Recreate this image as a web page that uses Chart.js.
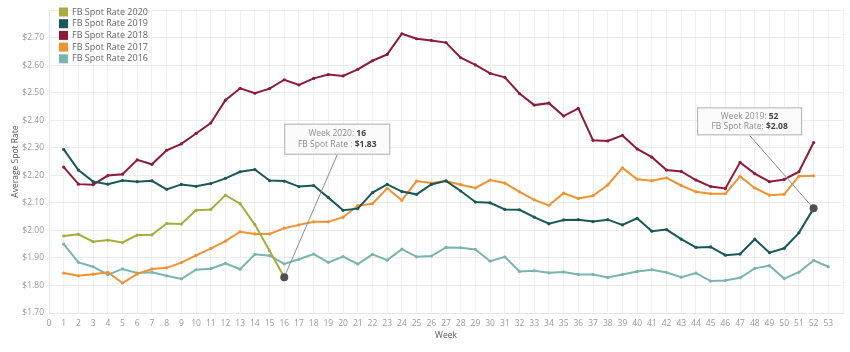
<!DOCTYPE html>
<html>
<head>
<meta charset="utf-8">
<script src="https://cdn.jsdelivr.net/npm/chart.js@4.4.1/dist/chart.umd.min.js"></script>
<style>
  html, body { margin: 0; padding: 0; background: #fff; }
  #wrap { width: 850px; height: 352px; }
</style>
</head>
<body>
<div id="wrap"><canvas id="spot-chart" width="850" height="352"></canvas></div>
<script>
// Semanas e valores por ano
const weeks = Array.from({ length: 53 }, (_, i) => i + 1);
const seriesNames = ['FB Spot Rate 2020', 'FB Spot Rate 2019', 'FB Spot Rate 2018', 'FB Spot Rate 2017', 'FB Spot Rate 2016'];
const rate2020 = [1.980, 1.986, 1.959, 1.965, 1.956, 1.983, 1.984, 2.025, 2.023, 2.073, 2.076, 2.128, 2.097, 2.021, 1.926, 1.83];
const rate2019 = [2.294, 2.219, 2.177, 2.168, 2.181, 2.177, 2.180, 2.149, 2.167, 2.160, 2.170, 2.189, 2.213, 2.221, 2.181, 2.179, 2.159, 2.163, 2.119, 2.073,
  2.079, 2.137, 2.167, 2.141, 2.131, 2.167, 2.180, 2.143, 2.103, 2.100, 2.076, 2.075, 2.048, 2.024, 2.038, 2.039, 2.032, 2.039, 2.020, 2.044,
  1.997, 2.003, 1.968, 1.938, 1.940, 1.910, 1.914, 1.968, 1.919, 1.935, 1.991, 2.08];
const rate2018 = [2.230, 2.168, 2.166, 2.199, 2.204, 2.256, 2.240, 2.291, 2.314, 2.352, 2.390, 2.473, 2.516, 2.498, 2.515, 2.547, 2.528, 2.552, 2.566, 2.561,
  2.585, 2.616, 2.639, 2.714, 2.696, 2.690, 2.682, 2.627, 2.601, 2.570, 2.556, 2.497, 2.455, 2.462, 2.415, 2.443, 2.327, 2.325, 2.345, 2.296,
  2.266, 2.219, 2.214, 2.183, 2.159, 2.152, 2.247, 2.206, 2.177, 2.185, 2.213, 2.319];
const rate2017 = [1.845, 1.835, 1.841, 1.848, 1.809, 1.842, 1.860, 1.864, 1.883, 1.909, 1.934, 1.961, 1.995, 1.987, 1.987, 2.008, 2.020, 2.031, 2.031, 2.048,
  2.090, 2.097, 2.153, 2.109, 2.179, 2.172, 2.179, 2.166, 2.154, 2.183, 2.172, 2.140, 2.111, 2.091, 2.135, 2.116, 2.126, 2.165, 2.227, 2.186,
  2.180, 2.191, 2.163, 2.140, 2.133, 2.133, 2.196, 2.154, 2.128, 2.131, 2.197, 2.198];
const rate2016 = [1.950, 1.884, 1.868, 1.839, 1.860, 1.845, 1.848, 1.835, 1.824, 1.857, 1.861, 1.880, 1.859, 1.913, 1.908, 1.878, 1.895, 1.914, 1.884, 1.905,
  1.878, 1.913, 1.892, 1.932, 1.904, 1.907, 1.938, 1.937, 1.931, 1.888, 1.904, 1.851, 1.853, 1.846, 1.849, 1.840, 1.840, 1.829, 1.840, 1.851,
  1.857, 1.847, 1.830, 1.845, 1.816, 1.818, 1.828, 1.862, 1.872, 1.825, 1.848, 1.891, 1.868];
const yTicks = [1.7, 1.8, 1.9, 2.0, 2.1, 2.2, 2.3, 2.4, 2.5, 2.6, 2.7];

const colors = ['#a6ad3a', '#17585a', '#8e1a3b', '#ef922f', '#78b5ae'];
const allRates = [rate2020, rate2019, rate2018, rate2017, rate2016];

const toPoints = vals => vals.map((v, i) => ({ x: weeks[i], y: v }));

// Destaques (caixas de texto)
const callouts = [
  { series: 0, week: 16, title: 'Week 2020: ', sep: 'FB Spot Rate : ', dx: 53, dy: -138, w: 106, h: 31 },
  { series: 1, week: 52, title: 'Week 2019: ', sep: 'FB Spot Rate: ', dx: -64, dy: -87, w: 105, h: 28 }
];

const FONT = '"Open Sans", "DejaVu Sans", sans-serif';

const overlay = {
  id: 'overlay',
  afterDraw(chart) {
    const ctx = chart.ctx;
    const xs = chart.scales.x, ys = chart.scales.y;
    ctx.save();
    // legenda
    ctx.font = '9px ' + FONT;
    ctx.textBaseline = 'middle';
    seriesNames.forEach((name, i) => {
      const cy = 12 + i * 11.7;
      ctx.fillStyle = colors[i];
      ctx.fillRect(59, cy - 4.5, 9, 9);
      ctx.fillStyle = '#666';
      ctx.fillText(name, 72, cy);
    });
    // caixas
    callouts.forEach(c => {
      const val = allRates[c.series][c.week - 1];
      const px = xs.getPixelForValue(c.week);
      const py = ys.getPixelForValue(val);
      const cx = px + c.dx, cy = py + c.dy;
      const bx = cx - c.w / 2, by = cy - c.h / 2;
      ctx.strokeStyle = '#8a8a8a';
      ctx.lineWidth = 1;
      ctx.beginPath();
      ctx.moveTo(cx, by + c.h);
      ctx.lineTo(px, py);
      ctx.stroke();
      ctx.fillStyle = '#4f4f4f';
      ctx.beginPath();
      ctx.arc(px, py, 4, 0, Math.PI * 2);
      ctx.fill();
      ctx.fillStyle = 'rgba(250,250,250,0.96)';
      ctx.fillRect(bx, by, c.w, c.h);
      ctx.strokeStyle = '#b0b0b0';
      ctx.strokeRect(bx + 0.5, by + 0.5, c.w - 1, c.h - 1);
      const lines = [[c.title, String(c.week)], [c.sep, '$' + val.toFixed(2)]];
      const gap = c.h > 29 ? 11 : 9.5;
      lines.forEach((ln, k) => {
        const ty = cy + (k === 0 ? -gap / 2 : gap / 2);
        ctx.font = '8.5px ' + FONT;
        const w1 = ctx.measureText(ln[0]).width;
        ctx.font = 'bold 8.5px ' + FONT;
        const w2 = ctx.measureText(ln[1]).width;
        const sx = cx - (w1 + w2) / 2;
        ctx.font = '8.5px ' + FONT;
        ctx.fillStyle = '#8c8c8c';
        ctx.fillText(ln[0], sx, ty);
        ctx.font = 'bold 8.5px ' + FONT;
        ctx.fillStyle = '#444';
        ctx.fillText(ln[1], sx + w1, ty);
      });
    });
    ctx.restore();
  }
};

const ctx = document.getElementById('spot-chart').getContext('2d');
const spotChart = new Chart(ctx, {
  type: 'line',
  data: {
    datasets: seriesNames.map((name, i) => ({
      label: name,
      data: toPoints(allRates[i]),
      borderColor: colors[i],
      backgroundColor: colors[i],
      borderWidth: 2,
      pointRadius: 1.6,
      pointBorderWidth: 0,
      tension: 0
    }))
  },
  options: {
    responsive: false,
    animation: false,
    layout: { padding: { top: 6, right: 7, left: 0, bottom: 0 } },
    plugins: {
      legend: { display: false },
      tooltip: { enabled: false }
    },
    scales: {
      x: {
        type: 'linear',
        min: 0,
        max: 54,
        afterFit: s => { s.height = 39; },
        grid: { color: '#f0f0f0', drawTicks: false },
        border: { color: '#e6e6e6' },
        ticks: {
          stepSize: 1,
          autoSkip: false,
          maxRotation: 0,
          padding: 5,
          color: '#999',
          font: { family: FONT, size: 8.5 },
          callback: v => (v <= 53 ? v : '')
        },
        title: {
          display: true,
          text: 'Week',
          color: '#555',
          font: { family: FONT, size: 8.5 },
          padding: { top: 0, bottom: 11 }
        }
      },
      y: {
        min: 1.7,
        max: 2.8,
        afterFit: s => { s.width = 49; },
        afterBuildTicks: s => { s.ticks = yTicks.map(v => ({ value: v })).concat([{ value: 2.8 }]); },
        grid: { color: '#ececec', drawTicks: false },
        border: { color: '#e6e6e6' },
        ticks: {
          padding: 5,
          color: '#999',
          font: { family: FONT, size: 8.5 },
          callback: v => (v > 2.75 ? '' : '$' + v.toFixed(2))
        },
        title: {
          display: true,
          text: 'Average Spot Rate',
          color: '#555',
          font: { family: FONT, size: 8.5 },
          padding: { top: 10, bottom: 0 }
        }
      }
    }
  },
  plugins: [overlay]
});
</script>
</body>
</html>
